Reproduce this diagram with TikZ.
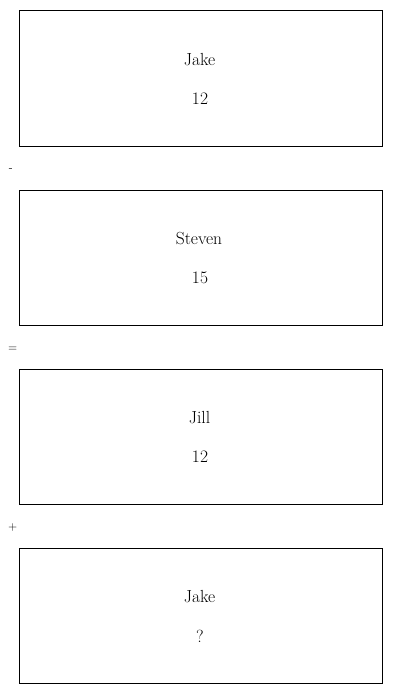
\documentclass[tikz,border=0pt]{standalone}
\begin{document}
\begin{tikzpicture}[x=1pt,y=-1pt,
  card/.style={draw=black,line width=0.9pt,minimum width=363pt,minimum height=135pt,inner sep=0pt,anchor=north west},
  lbl/.style={font=\fontsize{17.5}{20}\selectfont,inner sep=0pt},
  op/.style={font=\fontsize{12}{14}\selectfont,inner sep=0pt}]
\useasboundingbox (0,0) rectangle (400,693);
\node[card] (b1) at (18.5,10.5) {};
\node[card] (b2) at (18.5,189.5) {};
\node[card] (b3) at (18.5,368.5) {};
\node[card] (b4) at (18.5,547.5) {};
\node[lbl] (n1) at (199.5,59.5) {Jake};
\node[lbl] (v1) at (200,98.8) {12};
\node[lbl] (n2) at (199,239) {Steven};
\node[lbl] (v2) at (200,278) {15};
\node[lbl] (n3) at (199.5,418) {Jill};
\node[lbl] (v3) at (200,457) {12};
\node[lbl] (n4) at (199.5,597) {Jake};
\node[lbl] (v4) at (200,636) {?};
\node[op] (o1) at (10.8,170) {-};
\node[op] (o2) at (12.8,349.5) {=};
\node[op] (o3) at (12.8,527.5) {+};
\end{tikzpicture}
\end{document}
